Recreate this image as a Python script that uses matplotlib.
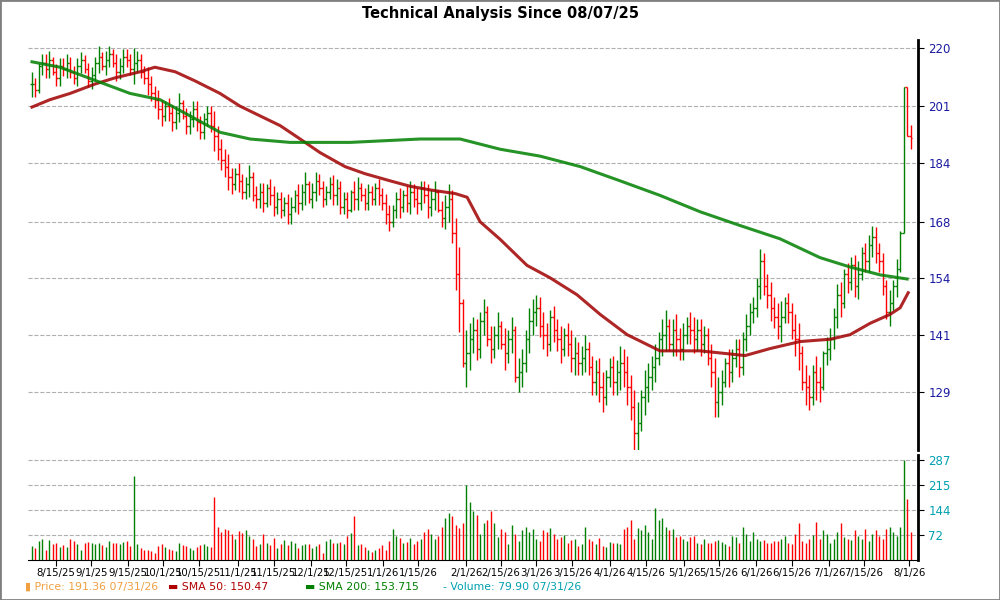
import numpy as np
import matplotlib
matplotlib.use("Agg")
import matplotlib.pyplot as plt
from matplotlib.ticker import NullLocator

# daily closes (trading-day index 0..251, 08/07/25 .. 07/31/26)
closes = [208,206,214,215,213,216,212,210,214,213,
          215,212,210,214,216,213,209,211,215,217,
          214,216,218,215,212,214,217,216,213,215,
          216,212,210,208,205,203,200,198,201,199,
          196,199,202,198,195,197,200,196,193,197,
          199,195,192,188,185,183,180,178,181,179,
          176,178,180,175,174,176,173,177,175,172,
          174,171,173,170,172,175,173,176,178,174,
          176,179,177,174,176,178,175,177,172,174,
          171,176,174,177,175,173,176,174,177,175,
          173,170,168,171,174,172,175,173,176,174,
          173,177,175,172,174,176,171,169,172,174,
          165,155,148,135,137,140,142,138,144,146,
          140,138,141,143,139,137,140,142,132,133,
          135,140,144,146,147,143,141,139,145,142,
          140,138,141,139,136,137,135,136,138,134,
          131,133,130,128,132,134,131,133,135,133,
          130,126,121,123,128,130,132,134,136,140,
          141,143,139,142,140,138,141,143,142,140,
          142,139,141,136,133,127,129,131,135,133,
          136,138,134,140,143,146,147,152,158,152,
          150,147,145,143,145,148,146,142,140,137,
          131,130,128,133,131,130,137,138,140,145,
          150,148,155,153,157,152,155,160,158,162,
          164,160,158,152,146,148,152,156,165,207,192,191.36]

# daily high-low range
ranges = [8,6,10,7,8,9,6,7,9,6, 8,7,6,9,7,6,8,7,8,9, 6,8,7,6,9,7,8,6,7,12,
          7,8,6,9,8,7,9,8,6,7, 8,7,9,6,8,7,8,9,7,8, 6,8,12,10,9,8,10,7,6,8,
          7,6,9,8,6,7,8,6,7,8, 6,7,5,8,7,6,8,7,9,6, 7,8,6,7,5,6,8,7,9,6,
          7,6,8,9,5,6,7,5,6,7, 6,8,7,6,7,8,6,7,9,6, 7,8,6,9,7,8,6,7,9,10,
          14,18,20,15,12,10,8,9,10,8, 9,8,7,8,6,9,7,8,12,7, 8,9,10,8,7,9,8,7,9,8,
          7,8,6,7,9,8,7,6,8,7, 8,7,9,8,7,6,8,7,9,8, 10,9,12,10,8,9,8,7,8,7,
          8,9,7,8,9,7,8,6,7,8, 7,8,6,8,9,12,8,7,6,8, 7,6,8,9,8,7,6,9,12,10,
          8,9,7,8,9,6,7,8,9,10, 9,8,7,8,9,7,8,6,7,9, 10,8,9,7,8,10,9,8,7,9,
          8,9,7,10,9,8,7,9,10,25,10,7]

volumes = [40,35,55,60,30,58,45,50,38,42, 36,60,55,45,30,50,52,48,45,50,
           42,38,55,50,48,45,52,55,40,240, 45,35,30,28,25,20,40,45,38,32,
           30,25,48,42,40,35,28,38,42,45, 40,38,180,95,80,88,85,75,60,82,
           78,85,70,60,40,45,75,48,42,62, 35,45,58,42,55,50,35,42,46,45,
           35,40,45,20,55,60,48,50,52,45, 70,78,125,42,45,38,28,22,30,35,
           42,28,55,90,70,62,48,52,62,45, 55,60,80,90,75,60,68,95,120,135,
           125,100,92,105,215,165,140,130,75,105, 115,140,105,65,90,80,45,100,75,55,
           85,95,80,90,60,55,85,80,92,75, 60,65,72,48,58,60,40,45,95,60,
           55,45,62,40,38,52,48,48,45,90, 95,115,60,92,85,100,80,60,150,115,
           120,95,85,90,65,70,60,55,65,70, 50,45,60,48,50,55,58,52,45,40,
           70,65,48,95,75,55,80,60,55,58, 50,48,55,55,60,68,50,45,75,105,
           55,48,60,72,110,60,85,75,50,60, 80,105,65,60,58,85,70,60,90,55,
           75,85,70,60,90,95,80,70,95,287,175,79.9]

# moving averages at selected trading days
sma50_days = [0, 5.1, 10.9, 18, 23.7, 30.9, 35.1, 40.9, 46.6, 53.7, 59.4, 65.1, 70.9,
              76.6, 82.3, 89.4, 95.1, 102.3, 108, 113.7, 120.9, 124.3, 128, 133.7, 141.4,
              148, 155.7, 162.3, 170, 179.4, 190.9, 203.7, 210.9, 219.4, 228, 233.7,
              239.4, 245.1, 248, 250.3]
sma50 = [200.7, 203, 205, 208, 210, 212, 213.5, 212, 209, 205, 201, 198, 195, 191, 187,
         183, 181, 179, 177.5, 176.5, 175.5, 174.5, 168, 163.5, 157, 154, 150, 145.5,
         141, 137.5, 137.5, 136.5, 138, 139.5, 140, 141, 143.5, 145.5, 147, 150.47]
sma200_days = [0, 8, 19.4, 28, 36.6, 45.1, 53.7, 62.3, 73.7, 90.9, 110.9, 122.3, 133.7,
               145.1, 156.6, 168, 179.4, 190.9, 202.3, 213.7, 225.1, 233.7, 242.3, 250]
sma200 = [215.3, 213.5, 208.6, 205, 203, 198, 193, 191, 190, 190, 191, 191, 188, 186,
          183, 179, 175, 170.6, 167, 163.6, 158.9, 156.6, 154.7, 153.715]

tick_days = [6.9, 16.9, 27.4, 37.4, 47.7, 58.9, 69.1, 79.7, 89.7, 100.3, 110.3, 124, 134,
             144, 154.3, 165.1, 175.4, 186.3, 196.3, 206.9, 217.1, 227.7, 237.7, 250.6]
tick_labels = ["8/15/25", "9/1/25", "9/15/25", "10/1/25", "10/15/25", "11/1/25", "11/15/25",
               "12/1/25", "12/15/25", "1/1/26", "1/15/26", "2/1/26", "2/15/26", "3/1/26",
               "3/15/26", "4/1/26", "4/15/26", "5/1/26", "5/15/26", "6/1/26", "6/15/26",
               "7/1/26", "7/15/26", "8/1/26"]
price_ticks = [129, 141, 154, 168, 184, 201, 220]
vol_ticks = [72, 144, 215, 287]

RED, GREEN = "#ff0000", "#008000"

fig = plt.figure(figsize=(10, 6), dpi=100)
fig.patches.append(plt.Rectangle((0, 0), 1, 1, transform=fig.transFigure, fill=False,
                                 edgecolor="#808080", linewidth=2))
ax = fig.add_axes([0.028, 0.25, 0.89, 0.6833])
axv = fig.add_axes([0.028, 0.0667, 0.89, 0.175])

n = len(closes)
opens = [closes[0]] + closes[:-1]
for i in range(n):
    o, c = opens[i], closes[i]
    col = GREEN if c >= o else RED
    mid = (o + c) / 2
    hi = max(max(o, c), mid + ranges[i] / 2)
    lo = min(min(o, c), mid - ranges[i] / 2)
    ax.vlines(i, lo, hi, color=col, linewidth=1.0)
    ax.hlines(o, i - 0.5, i, color=col, linewidth=1.0)
    ax.hlines(c, i, i + 0.5, color=col, linewidth=1.0)
    axv.vlines(i, 0, volumes[i], color=col, linewidth=1.0)

ax.plot(sma50_days, sma50, color="#a00000", linewidth=2.2, alpha=0.85)
ax.plot(sma200_days, sma200, color="#008000", linewidth=2.2, alpha=0.85)

ax.set_yscale("log")
ax.set_ylim(117.9, 222.7)
ax.set_xlim(-1.14, 253.1)
ax.yaxis.set_minor_locator(NullLocator())
ax.set_yticks(price_ticks)
ax.set_yticklabels([str(t) for t in price_ticks])
ax.yaxis.tick_right()
ax.tick_params(axis="y", labelcolor="#1a1aa0", labelsize=8.5, length=4)
ax.set_xticks([])
ax.grid(axis="y", color="#b0b0b0", linestyle="--", linewidth=0.8)
for s in ["left", "top", "bottom"]:
    ax.spines[s].set_visible(False)
ax.spines["right"].set_linewidth(2)

axv.set_xlim(-1.14, 253.1)
axv.set_ylim(0, 301)
axv.set_yticks(vol_ticks)
axv.yaxis.tick_right()
axv.tick_params(axis="y", labelcolor="#00a0b0", labelsize=8.5, length=4)
axv.grid(axis="y", color="#b0b0b0", linestyle="--", linewidth=0.8)
axv.set_xticks(tick_days)
axv.set_xticklabels(tick_labels, fontsize=7.3)
axv.tick_params(axis="x", length=4, pad=2)
for s in ["left", "top"]:
    axv.spines[s].set_visible(False)
axv.spines["right"].set_linewidth(2)

fig.text(0.5, 0.978, "Technical Analysis Since 08/07/25", ha="center", va="center",
         fontsize=10.5, fontweight="bold")

legend = [(0.025, "▮ Price: 191.36 07/31/26", "#f0a040"),
          (0.168, "▬ SMA 50: 150.47", "#b00000"),
          (0.305, "▬ SMA 200: 153.715", "#008000"),
          (0.443, "- Volume: 79.90 07/31/26", "#00a0b0")]
for lx, txt, col in legend:
    fig.text(lx, 0.022, txt, color=col, fontsize=7.8, va="center")

fig.savefig("out.png", dpi=100)
